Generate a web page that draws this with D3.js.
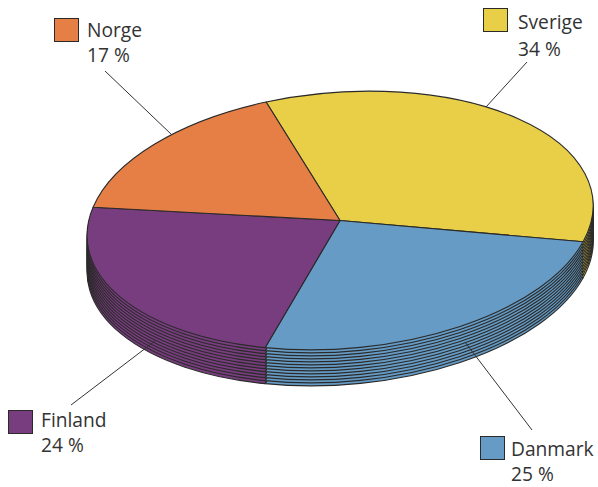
<!DOCTYPE html>
<html><head><meta charset="utf-8">
<style>html,body{margin:0;padding:0;background:#fff}svg{display:block}text{font-family:"Open Sans",sans-serif;font-size:19.2px;fill:#333}</style>
<script src="https://cdnjs.cloudflare.com/ajax/libs/d3/7.8.5/d3.min.js"></script>
</head><body><svg id="c" width="598" height="487"></svg>
<script>
const categories = ["Sverige","Danmark","Finland","Norge"];
const values = [34.2,25.3,23.7,16.8];
const colours = ["#E9CF48","#659BC4","#783D7E","#E67F45"];
const legendX = [483,480,8,54], legendY = [8,436,410,18];
const textX = [518,511,41,87];
const nameY = [29,456,427,37], valueY = [56,481,452,62];
const leaderFrom = [[527,62],[532,430],[71,405],[105,71]];
const leaderTo = [[486,107],[465,342],[155,341],[172,135]];
const layers = d3.range(12,-1,-1);

const depth = d3.scaleLinear([0,12],[0,36]);
const svg = d3.select("#c");
const pie = d3.pie().sort(null).startAngle(-17*Math.PI/180).endAngle(343*Math.PI/180)(values);
const arc = d3.arc().innerRadius(0).outerRadius(1);
// tilted-disc projection of the unit pie
const tilt = k => `matrix(253,-15,0,128.5,340,${220.5+depth(k)})`;

layers.forEach(k=>{
  svg.append("g").attr("transform",tilt(k))
    .selectAll("path").data(pie).join("path")
    .attr("d",arc).attr("fill",(d,i)=>colours[i])
    .attr("vector-effect","non-scaling-stroke")
    .attr("stroke","#2a2a2a").attr("stroke-width",1.1).attr("stroke-linejoin","round");
});
svg.append("g").selectAll("line").data(categories).join("line")
  .attr("x1",(d,i)=>leaderFrom[i][0]).attr("y1",(d,i)=>leaderFrom[i][1])
  .attr("x2",(d,i)=>leaderTo[i][0]).attr("y2",(d,i)=>leaderTo[i][1])
  .attr("stroke","#333").attr("stroke-width",1);
const lg=svg.append("g").selectAll("g").data(categories).join("g");
lg.append("rect").attr("x",(d,i)=>legendX[i]+.5).attr("y",(d,i)=>legendY[i]+.5).attr("width",24).attr("height",23)
  .attr("fill",(d,i)=>colours[i]).attr("stroke","#2a2a2a").attr("stroke-width",1);
lg.append("text").attr("x",(d,i)=>textX[i]).attr("y",(d,i)=>nameY[i]).text(d=>d);
lg.append("text").attr("x",(d,i)=>textX[i]).attr("y",(d,i)=>valueY[i]).text((d,i)=>Math.round(values[i])+" %");
</script></body></html>
